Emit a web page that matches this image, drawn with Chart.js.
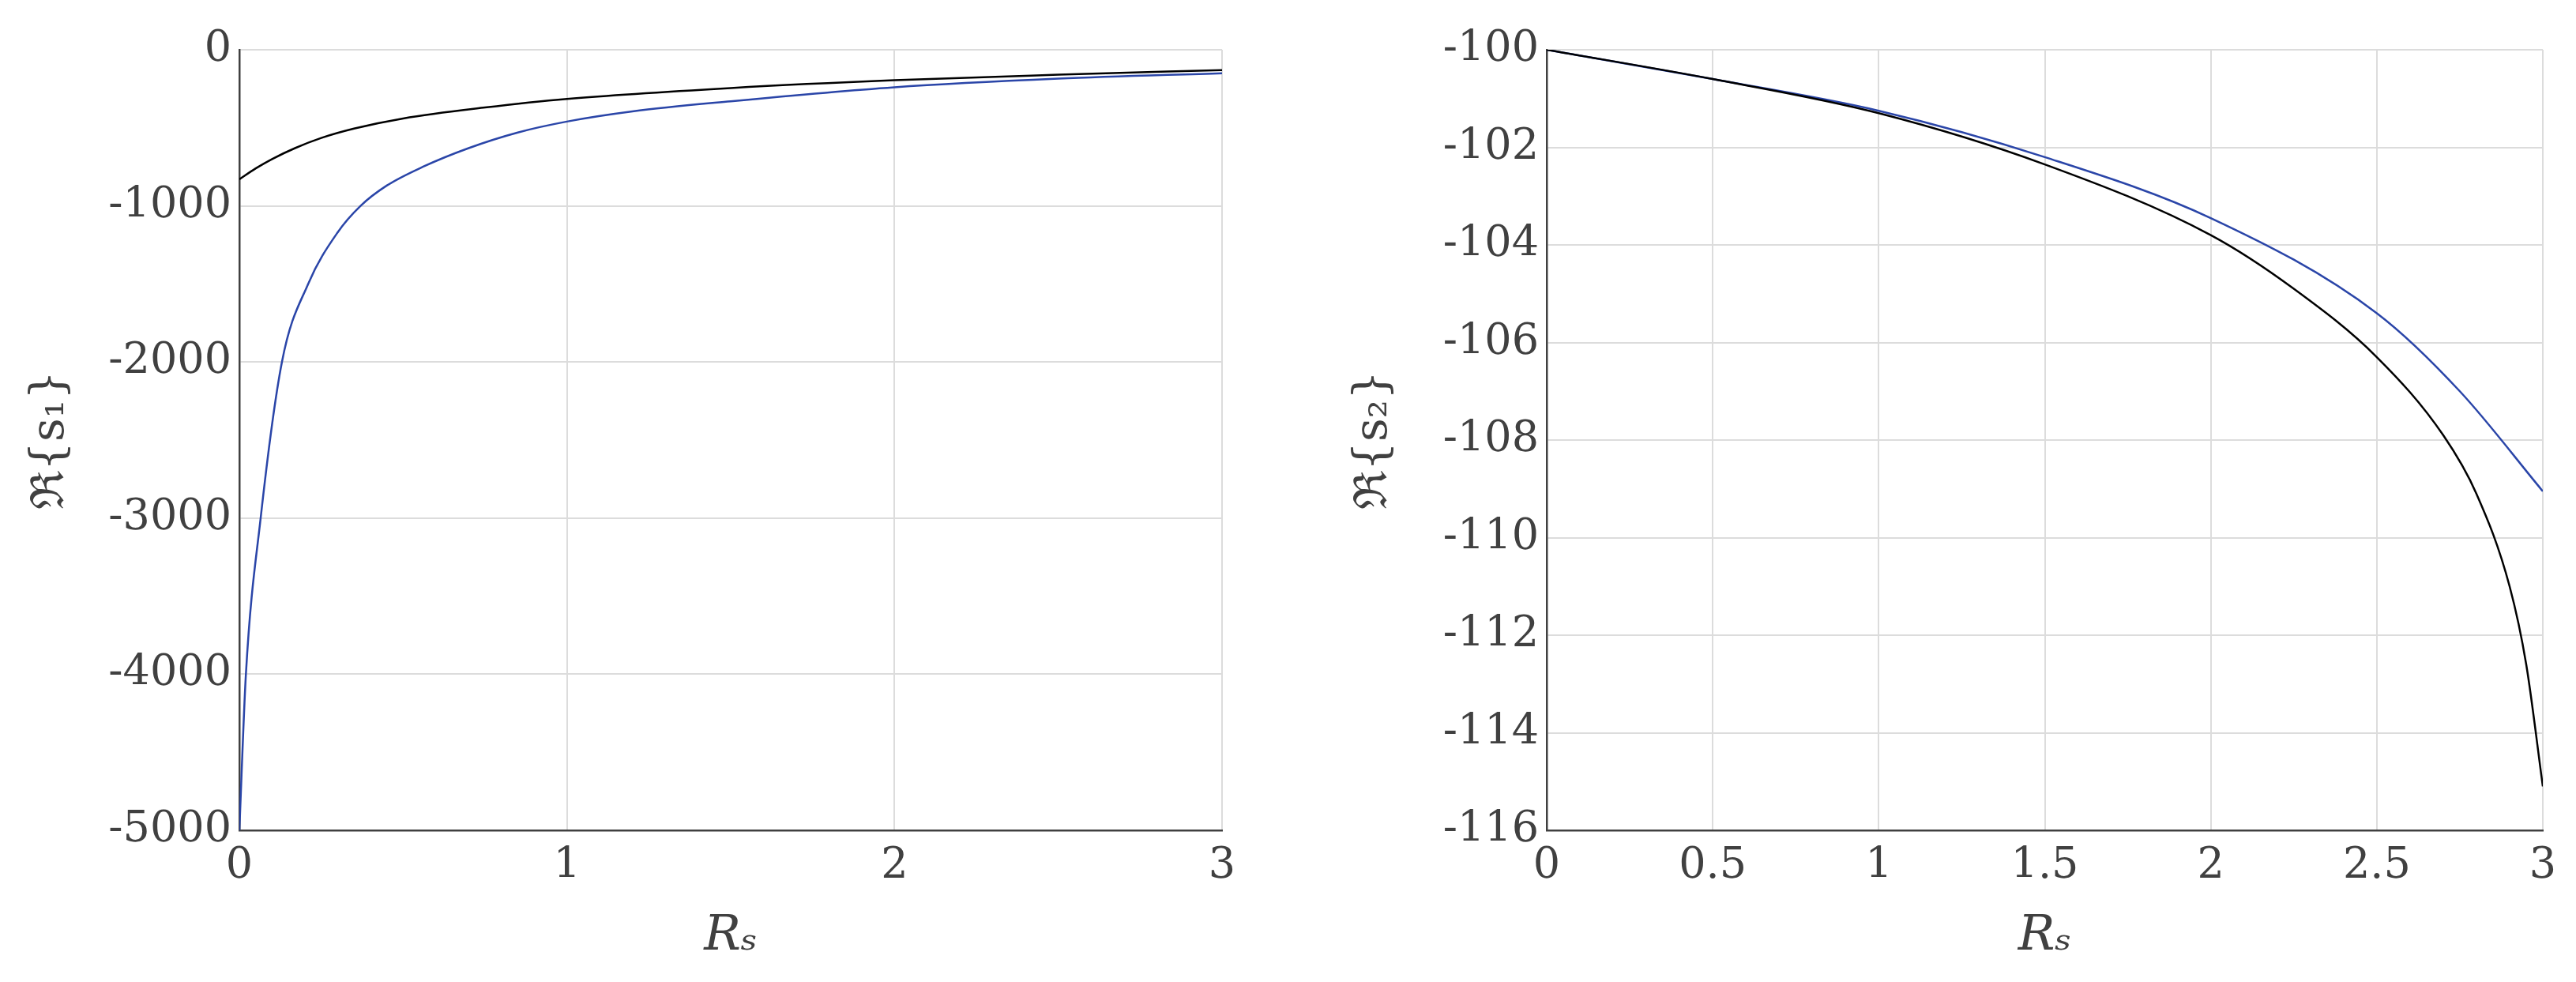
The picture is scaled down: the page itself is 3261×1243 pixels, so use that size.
<!DOCTYPE html>
<html>
<head>
<meta charset="utf-8">
<script src="https://cdn.jsdelivr.net/npm/chart.js@4/dist/chart.umd.min.js"></script>
<style>
  body { margin: 0; background: #fff; }
  .box { position: absolute; top: 0; width: 1630px; height: 1243px; }
</style>
</head>
<body>
<div class="box" style="left:0"><canvas id="c1"></canvas></div>
<div class="box" style="left:1630px;width:1631px"><canvas id="c2"></canvas></div>
<script>
// left panel: Re{s1}
var rs1Black = [0, 0.05, 0.1, 0.17, 0.25, 0.35, 0.5, 0.75, 1, 1.5, 2, 2.5, 3];
var s1Black = [-830, -760, -700, -630, -565, -505, -440, -370, -315, -245, -195, -160, -130];
var rs1Blue = [0, 0.02, 0.065, 0.13, 0.21, 0.3, 0.37, 0.45, 0.56, 0.7, 0.85, 1, 1.2, 1.5, 2, 2.5, 3];
var s1Blue = [-5000, -4000, -3000, -2000, -1500, -1170, -1000, -870, -750, -630, -530, -460, -395, -330, -240, -185, -150];
// right panel: Re{s2}
var rs2Black = [0, 0.5, 1, 1.5, 2, 2.25, 2.5, 2.7, 2.8, 2.9, 2.95, 3];
var s2Black = [-100, -100.6, -101.3, -102.35, -103.8, -104.9, -106.3, -107.9, -109.1, -111, -112.6, -115.1];
var rs2Blue = [0, 0.5, 1, 1.5, 2, 2.5, 2.75, 3];
var s2Blue = [-100, -100.6, -101.25, -102.2, -103.45, -105.4, -107, -109.05];

function pts(xs, ys) { return xs.map(function (x, i) { return {x: x, y: ys[i]}; }); }

var txt = '#404040';
var fam = '"DejaVu Serif", "Liberation Serif", serif';
var font = {family: fam, size: 54};

function makeChart(id, dsets, ymin, ymax, ystep, xstep, yTitle, leftPad, yWidth, rightPad) {
    new Chart(document.getElementById(id), {
        type: 'line',
        data: {datasets: dsets.map(function (d) {
            return {data: d.data, borderColor: d.color, borderWidth: 2.5, pointRadius: 0,
                    fill: false, cubicInterpolationMode: 'monotone'};
        })},
        options: {
            responsive: true, maintainAspectRatio: false, animation: false,
            layout: {padding: {top: 63, right: rightPad, bottom: 20, left: leftPad}},
            plugins: {legend: {display: false}, tooltip: {enabled: false}},
            scales: {
                x: {
                    type: 'linear', min: 0, max: 3,
                    ticks: {stepSize: xstep, color: txt, font: font, maxRotation: 0, padding: 14,
                            callback: function (v) { return String(v); }},
                    grid: {color: '#dcdcdc', lineWidth: 2, drawTicks: false},
                    border: {color: txt, width: 2.5},
                    title: {display: true, text: 'R\u209B', color: txt, padding: 0,
                            font: {family: fam, size: 62, style: 'italic'}},
                    afterFit: function (s) { s.height = 172; }
                },
                y: {
                    min: ymin, max: ymax,
                    ticks: {stepSize: ystep, color: txt, font: font, padding: 10,
                            callback: function (v) { return String(v); }},
                    grid: {color: '#dcdcdc', lineWidth: 2, drawTicks: false},
                    border: {color: txt, width: 2.5},
                    title: {display: true, text: yTitle, color: txt, padding: 0,
                            font: {family: fam, size: 58}},
                    afterFit: function (s) { s.width = yWidth; }
                }
            }
        }
    });
}

makeChart('c1', [
    {data: pts(rs1Black, s1Black), color: '#000000'},
    {data: pts(rs1Blue, s1Blue), color: '#2a45a8'}
], -5000, 0, 1000, 1, '\u211C{s\u2081}', 30, 273, 83);

makeChart('c2', [
    {data: pts(rs2Black, s2Black), color: '#000000'},
    {data: pts(rs2Blue, s2Blue), color: '#2a45a8'}
], -116, -100, 2, 0.5, '\u211C{s\u2082}', 75, 253, 42);
</script>
</body>
</html>
